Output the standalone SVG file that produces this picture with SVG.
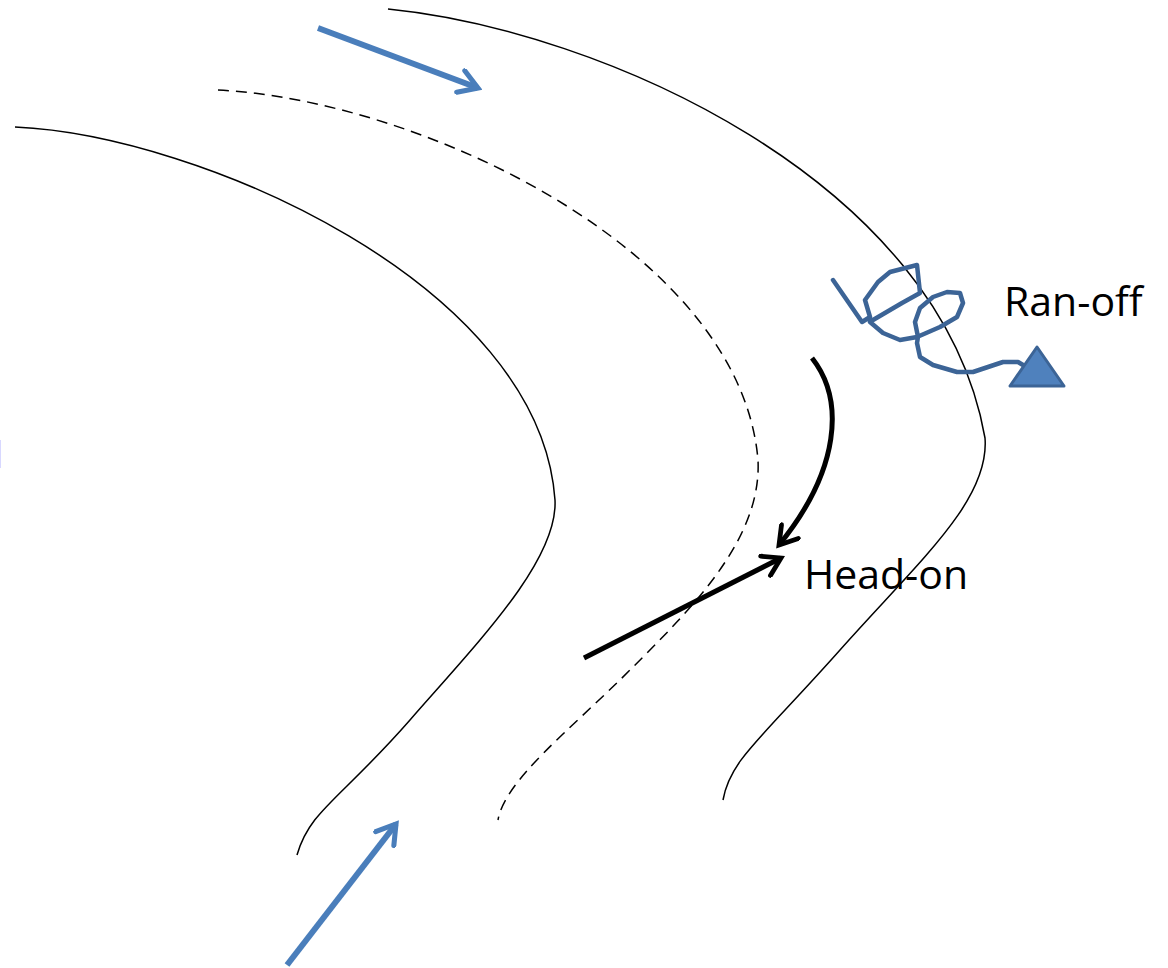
<svg xmlns="http://www.w3.org/2000/svg" width="1168" height="968" viewBox="0 0 1168 968">
<style>
.road{fill:none;stroke:#000;stroke-width:1.5}
.dash{fill:none;stroke:#000;stroke-width:1.5;stroke-dasharray:11,7}
.blue{fill:none;stroke:#4a7ebb;stroke-width:6;stroke-linecap:butt}
.blk{fill:none;stroke:#000;stroke-width:5}
.lbl{font-family:"Open Sans","Noto Sans",sans-serif;font-size:41px;fill:#000}
</style>
<defs>
<marker id="bh" viewBox="0 0 12 12" refX="10" refY="6" markerWidth="4.6" markerHeight="4.6" orient="auto" markerUnits="strokeWidth">
<path d="M2,1 L10,6 L2,11" fill="none" stroke="#4a7ebb" stroke-width="2.2" stroke-linecap="round" stroke-linejoin="miter"/>
</marker>
<marker id="kh" viewBox="0 0 12 12" refX="10" refY="6" markerWidth="5.2" markerHeight="5.2" orient="auto" markerUnits="strokeWidth">
<path d="M2,1 L10,6 L2,11" fill="none" stroke="#000" stroke-width="2.2" stroke-linecap="round"/>
</marker>
</defs>
<rect width="1168" height="968" fill="#fff"/>
<line x1="0.5" y1="440" x2="0.5" y2="468" stroke="#d8d8ff" stroke-width="1"/>
<g id="roads">
<path class="road" d="M15,127 C200,135 540,285 555,500 C558,560 480,640 410,720 S310,810 297,855"/>
<path class="dash" d="M218,90 C420,100 740,250 758,460 C762,540 690,610 630,670 S505,780 498,820"/>
<path class="road" d="M388,9 C600,30 940,180 985,438 C990,500 920,560 840,650 S730,760 723,800"/>
</g>
<g id="connectors">
<path class="blue" d="M318,28 L478,88" marker-end="url(#bh)"/>
<path class="blue" d="M287,965 L396,824" marker-end="url(#bh)"/>
<path class="blk" d="M812,358 C845,400 840,470 779,545" marker-end="url(#kh)"/>
<path class="blk" d="M584,658 L781,558" marker-end="url(#kh)"/>
</g>
<g id="ranoff">
<path d="M833,280 L862,322 L870,317 L865,300 L878,282 L890,272 L917,265 L920,293 L902,303 L873,320 L870,322 L883,333 L900,340 L917,337 L940,327 L957,317 L963,303 L960,293 L947,292 L933,297 L920,308 L915,322 L918,337 L917,343 L920,357 L933,365 L957,372 L973,372 L1003,362 L1018,362 L1023,365" fill="none" stroke="#3c6496" stroke-width="4.5" stroke-linejoin="round" stroke-linecap="round"/>
<polygon points="1037,347 1010,386 1064,386" fill="#4f81bd" stroke="#3c6496" stroke-width="3" stroke-linejoin="round"/>
<text class="lbl" x="1004" y="316">Ran-off</text>
</g>
<g id="headon">
<text class="lbl" x="804" y="589">Head-on</text>
</g>
</svg>
